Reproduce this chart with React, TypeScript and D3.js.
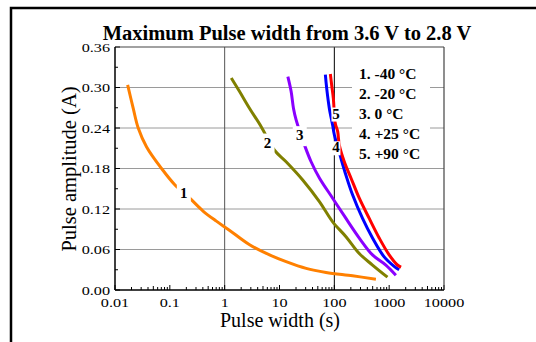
import React, { useRef, useEffect } from 'react';
import * as d3 from 'd3';

// pulse width (s) and pulse amplitude (A)
const s1X = [0.017, 0.0215, 0.0265, 0.0377, 0.0707, 0.123, 0.231, 0.403, 0.706, 1.2, 2.85, 6.58, 13.2, 30.6, 70.6, 215, 573];
const s1Y = [0.304, 0.269, 0.24, 0.212, 0.18, 0.156, 0.136, 0.117, 0.102, 0.089, 0.067, 0.052, 0.042, 0.032, 0.026, 0.021, 0.016];
const s2X = [1.32, 1.87, 2.85, 4.64, 8.11, 13.2, 26.5, 53.4, 93.2, 163, 285, 497, 931];
const s2Y = [0.314, 0.294, 0.269, 0.242, 0.207, 0.19, 0.163, 0.131, 0.101, 0.079, 0.054, 0.037, 0.019];
const s3X = [14.2, 16.3, 18.0, 20.1, 28.5, 37.7, 53.4, 93.2, 163, 285, 497, 871, 1324];
const s3Y = [0.316, 0.294, 0.269, 0.252, 0.215, 0.19, 0.166, 0.136, 0.106, 0.077, 0.052, 0.037, 0.022];
const s4X = [68.6, 72.5, 81.1, 93.2, 100, 132, 163, 215, 327, 497, 811, 1233, 1520];
const s4Y = [0.319, 0.299, 0.269, 0.244, 0.23, 0.195, 0.17, 0.141, 0.106, 0.077, 0.049, 0.035, 0.03];
const s5X = [84.6, 89.3, 95.9, 104, 115, 123, 152, 201, 285, 433, 658, 1000, 1416, 1652];
const s5Y = [0.32, 0.304, 0.284, 0.247, 0.235, 0.215, 0.19, 0.166, 0.136, 0.106, 0.077, 0.052, 0.037, 0.034];

const seriesColors = ['#ff8000', '#808000', '#8a00ff', '#0000ff', '#ff0000'];
const legendLabels = ['1. -40 °C', '2. -20 °C', '3. 0 °C', '4. +25 °C', '5. +90 °C'];
// curve number labels: [pulse width, amplitude] of the label baseline centre
const curveLabelAt = [[0.18, 0.137], [6.05, 0.211], [23.4, 0.222], [107, 0.204], [107, 0.254]];

const xTicks = [0.01, 0.1, 1, 10, 100, 1000, 10000];
const xTickLabels = ['0.01', '0.1', '1', '10', '100', '1000', '10000'];
const yTicks = [0, 0.06, 0.12, 0.18, 0.24, 0.3, 0.36];

function App() {
    const ref = useRef(null);

    useEffect(() => {
        document.body.style.margin = '0';
        const svg = d3.select(ref.current);
        svg.selectAll('*').remove();
        const font = '"Liberation Serif", "Times New Roman", serif';

        const left = 115, right = 444, top = 47, bottom = 290;
        const x = d3.scaleLog().domain([0.01, 10000]).range([left, right]);
        const y = d3.scaleLinear().domain([0, 0.36]).range([bottom, top]);

        svg.append('rect').attr('width', 536).attr('height', 342).attr('fill', '#fff');
        // outer frame (runs off the picture on the right and bottom)
        svg.append('rect')
            .attr('x', 11).attr('y', 8).attr('width', 600).attr('height', 400)
            .attr('fill', 'none').attr('stroke', '#000').attr('stroke-width', 2.5);

        // horizontal grid
        svg.append('g').selectAll('line')
            .data(yTicks.slice(1, -1))
            .enter().append('line')
            .attr('x1', left).attr('x2', right)
            .attr('y1', d => y(d)).attr('y2', d => y(d))
            .attr('stroke', '#9a9a9a').attr('stroke-width', 1);

        // vertical grid at 1 and 100
        svg.append('line')
            .attr('x1', x(1)).attr('x2', x(1)).attr('y1', top).attr('y2', bottom)
            .attr('stroke', '#555').attr('stroke-width', 1);
        svg.append('line')
            .attr('x1', x(100)).attr('x2', x(100)).attr('y1', top).attr('y2', bottom)
            .attr('stroke', '#000').attr('stroke-width', 1);

        // legend background hides the grid
        svg.append('rect')
            .attr('x', 352).attr('y', 58).attr('width', 78).attr('height', 104)
            .attr('fill', '#fff');

        // minor y ticks
        const yMinor = d3.range(0.03, 0.36, 0.06);
        svg.append('g').selectAll('line')
            .data(yMinor)
            .enter().append('line')
            .attr('x1', left).attr('x2', left + 3)
            .attr('y1', d => y(d)).attr('y2', d => y(d))
            .attr('stroke', '#000');
        svg.append('g').selectAll('line')
            .data(yTicks)
            .enter().append('line')
            .attr('x1', left).attr('x2', left + 5)
            .attr('y1', d => y(d)).attr('y2', d => y(d))
            .attr('stroke', '#000');

        // minor x ticks (log)
        const xMinor = [];
        for (let e = -2; e < 4; e++) {
            for (let m = 2; m < 10; m++) xMinor.push(m * Math.pow(10, e));
        }
        svg.append('g').selectAll('line')
            .data(xMinor)
            .enter().append('line')
            .attr('x1', d => x(d)).attr('x2', d => x(d))
            .attr('y1', bottom).attr('y2', (d, i) => bottom - (i % 8 === 3 ? 4 : 3))
            .attr('stroke', '#000');
        svg.append('g').selectAll('line')
            .data(xTicks)
            .enter().append('line')
            .attr('x1', d => x(d)).attr('x2', d => x(d))
            .attr('y1', bottom).attr('y2', bottom - 5)
            .attr('stroke', '#000');

        // plot box
        svg.append('line').attr('x1', left).attr('x2', right).attr('y1', top).attr('y2', top)
            .attr('stroke', '#444').attr('stroke-width', 1.2);
        svg.append('line').attr('x1', right).attr('x2', right).attr('y1', top).attr('y2', bottom)
            .attr('stroke', '#444').attr('stroke-width', 1.2);
        svg.append('line').attr('x1', left).attr('x2', right).attr('y1', bottom).attr('y2', bottom)
            .attr('stroke', '#000').attr('stroke-width', 1.5);
        svg.append('line').attr('x1', left).attr('x2', left).attr('y1', top).attr('y2', bottom)
            .attr('stroke', '#000').attr('stroke-width', 1.5);

        // curves
        const seriesX = [s1X, s2X, s3X, s4X, s5X];
        const seriesY = [s1Y, s2Y, s3Y, s4Y, s5Y];
        const line = d3.line()
            .x(d => x(d[0]))
            .y(d => y(d[1]))
            .curve(d3.curveCatmullRom);
        seriesX.forEach((xs, i) => {
            const pts = xs.map((v, j) => [v, seriesY[i][j]]);
            svg.append('path')
                .attr('d', line(pts))
                .attr('fill', 'none')
                .attr('stroke', seriesColors[i])
                .attr('stroke-width', 3)
                .attr('stroke-linejoin', 'round');
        });

        // curve number labels with white backing (wider gap on the open curves)
        curveLabelAt.forEach((p, i) => {
            const cx = x(p[0]), cy = y(p[1]);
            const w = i < 3 ? 14 : 9;
            const h = i < 3 ? 20 : 14;
            svg.append('rect')
                .attr('x', cx - w / 2).attr('y', cy - 11 - (h - 14) / 2).attr('width', w).attr('height', h)
                .attr('fill', '#fff');
            svg.append('text')
                .attr('x', cx).attr('y', cy)
                .attr('text-anchor', 'middle')
                .style('font-family', font).style('font-weight', 'bold').style('font-size', '15px')
                .text(String(i + 1));
        });

        // legend text
        svg.append('g').selectAll('text')
            .data(legendLabels)
            .enter().append('text')
            .attr('x', 359).attr('y', (d, i) => 79 + i * 20)
            .style('font-family', font).style('font-weight', 'bold').style('font-size', '15.5px')
            .text(d => d);

        // tick labels (drawn a bit wide, as in the reference)
        svg.append('g').selectAll('text')
            .data(yTicks)
            .enter().append('text')
            .attr('transform', d => `translate(110,${y(d) + 4.5}) scale(1.2,1)`)
            .attr('text-anchor', 'end')
            .style('font-family', font).style('font-size', '13.5px')
            .text(d => d.toFixed(2));
        svg.append('g').selectAll('text')
            .data(xTicks)
            .enter().append('text')
            .attr('transform', d => `translate(${x(d)},307) scale(1.2,1)`)
            .attr('text-anchor', 'middle')
            .style('font-family', font).style('font-size', '13.5px')
            .text((d, i) => xTickLabels[i]);

        // titles
        svg.append('text')
            .attr('x', 287).attr('y', 40)
            .attr('text-anchor', 'middle')
            .style('font-family', font).style('font-weight', 'bold').style('font-size', '20.5px')
            .text('Maximum Pulse width from 3.6 V to 2.8 V');
        svg.append('text')
            .attr('x', 280).attr('y', 326.5)
            .attr('text-anchor', 'middle')
            .style('font-family', font).style('font-size', '20px')
            .text('Pulse width (s)');
        svg.append('text')
            .attr('transform', 'translate(76,169) rotate(-90)')
            .attr('text-anchor', 'middle')
            .style('font-family', font).style('font-size', '20.5px')
            .text('Pulse amplitude (A)');
    }, []);

    return <svg ref={ref} width={536} height={342} style={{ display: 'block' }} />;
}

export default App;
